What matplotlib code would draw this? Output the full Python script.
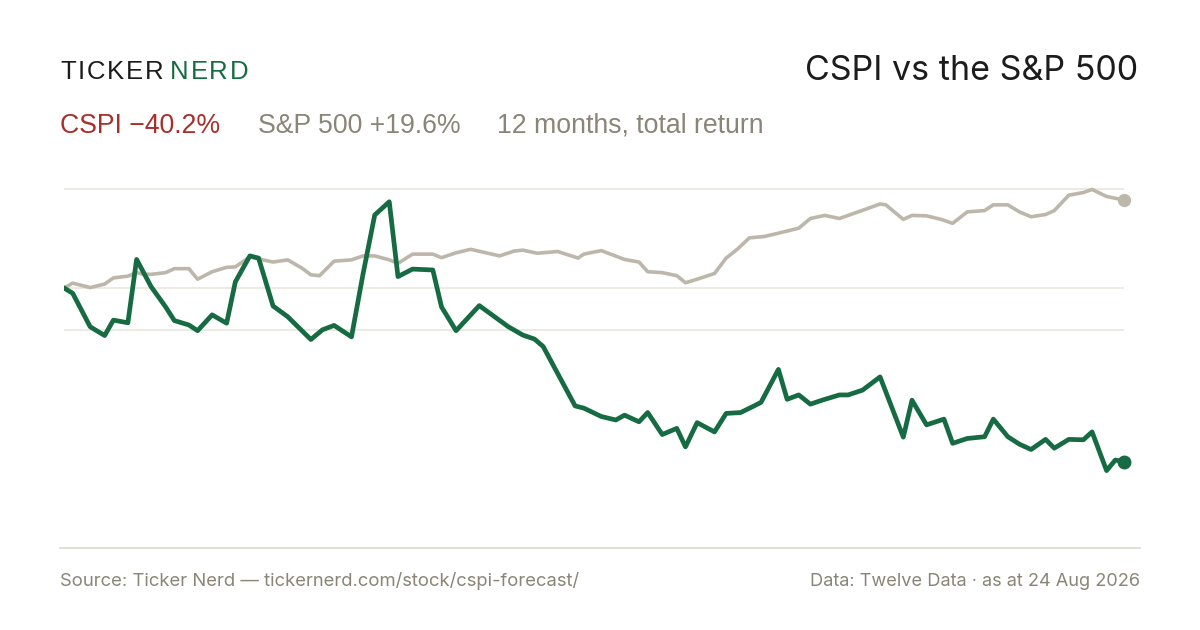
import pandas as pd
import matplotlib.pyplot as plt

plt.rcParams['font.family'] = ['Inter', 'DejaVu Sans']

# day offsets from 24 Aug 2025 and % return
cspi_days = [0, 3, 9, 14, 17, 22, 25, 30, 35, 38, 43, 46, 51, 56, 59, 64, 67, 72, 77, 85,
             89, 93, 99, 103, 107, 112, 115, 120, 127, 130, 135, 143, 148, 153, 158, 162, 165,
             176, 179, 185, 190, 193, 198, 201, 206, 211, 214, 218, 224, 228, 233, 237, 240,
             246, 249, 253, 257, 261, 267, 270, 275, 281, 289, 292, 297, 303, 306, 311, 317,
             320, 325, 329, 333, 338, 341, 346, 351, 354, 359, 362, 365]
cspi_ret = [0.0, -1.2, -8.8, -10.8, -7.3, -7.9, 6.5, 0.3, -4.3, -7.4, -8.4, -9.7, -6.1, -8.0,
            1.4, 7.3, 6.8, -4.1, -6.5, -11.7, -9.5, -8.5, -11.1, 3.3, 16.6, 19.6, 2.6, 4.3, 4.1,
            -4.3, -9.7, -4.0, -6.4, -8.8, -10.7, -11.6, -13.3, -26.8, -27.3, -29.2, -30.0,
            -28.9, -30.4, -28.3, -33.3, -31.9, -36.1, -30.6, -32.7, -28.5, -28.3, -27.0, -26.0,
            -18.5, -25.3, -24.3, -26.4, -25.5, -24.3, -24.3, -23.2, -20.2, -33.9, -25.5, -31.1,
            -29.8, -35.3, -34.2, -33.8, -29.8, -33.8, -35.5, -36.7, -34.4, -36.4, -34.4, -34.5,
            -32.7, -41.5, -39.1, -39.5]

spx_days = [0, 3, 9, 14, 17, 22, 25, 27, 30, 35, 38, 43, 46, 51, 56, 59, 64, 67, 72, 77, 82,
            85, 88, 93, 99, 103, 107, 112, 115, 120, 127, 130, 135, 140, 150, 155, 158, 163,
            170, 177, 179, 185, 193, 198, 201, 206, 211, 214, 218, 224, 228, 232, 236, 241,
            245, 253, 257, 262, 267, 276, 281, 283, 289, 292, 297, 302, 306, 311, 317, 320,
            325, 329, 333, 338, 341, 346, 351, 354, 359, 362, 365]
spx_ret = [0.0, 1.1, 0.1, 0.9, 2.3, 2.7, 3.5, 3.2, 3.1, 3.5, 4.4, 4.4, 2.0, 3.7, 4.7, 4.8, 7.1,
           6.6, 5.9, 6.4, 4.5, 3.0, 2.8, 6.1, 6.4, 7.3, 7.3, 6.4, 5.6, 7.7, 7.7, 6.9, 8.0, 8.8,
           7.3, 8.4, 8.6, 7.9, 8.3, 6.8, 7.7, 8.5, 6.5, 5.9, 3.7, 3.5, 2.8, 1.2, 2.0, 3.3, 6.8,
           8.9, 11.4, 11.7, 12.3, 13.6, 15.8, 16.5, 15.8, 17.9, 19.1, 18.9, 15.6, 16.5, 16.4,
           15.6, 14.7, 17.3, 17.6, 18.9, 18.9, 17.3, 16.2, 16.7, 17.6, 21.1, 21.7, 22.4, 20.8,
           20.4, 20.0]

grid_levels = [22.4, 0, -9.5]

start = pd.Timestamp('2025-08-24')
cspi_dates = start + pd.to_timedelta(cspi_days, unit='D')
spx_dates = start + pd.to_timedelta(spx_days, unit='D')

green = '#176b43'
grey_line = '#bdb6ab'
grey_text = '#8a8577'
red = '#a8302b'
sans = ['Liberation Sans', 'DejaVu Sans']

fig = plt.figure(figsize=(12, 6.3), dpi=100)
ax = fig.add_axes([64 / 1200, 130 / 630, 1060 / 1200, 320 / 630])

for g in grid_levels:
    ax.axhline(g, color='#e8e4da', lw=1.1, zorder=0)

ax.plot(spx_dates, spx_ret, color=grey_line, lw=2.6, solid_joinstyle='round', zorder=2)
ax.plot(cspi_dates, cspi_ret, color=green, lw=3.4, solid_joinstyle='round', zorder=3)
ax.plot(spx_dates[-1], spx_ret[-1], 'o', color=grey_line, ms=8.5, zorder=4, clip_on=False)
ax.plot(cspi_dates[-1], cspi_ret[-1], 'o', color=green, ms=9, zorder=4, clip_on=False)

ax.set_xlim(cspi_dates[0], cspi_dates[-1])
ax.set_ylim(-48.18, 24.55)
ax.axis('off')

def px(x, y):
    return x / 1200, 1 - y / 630

# logo with wide letter spacing
renderer = fig.canvas.get_renderer()
def spaced(x, y, word, color, track=1.8, size=18.5):
    for ch in word:
        t = fig.text(*px(x, y), ch, fontsize=size, color=color, va='baseline', family=sans)
        x += t.get_window_extent(renderer).width + track
    return x

spaced(60, 79, 'TICKER', '#1c1c1c')
spaced(170, 79, 'NERD', green)

fig.text(*px(1138, 80), 'CSPI vs the S&P 500', fontsize=24.5, color='#1c1c1c',
         ha='right', va='baseline')

fig.text(*px(60, 133), 'CSPI \u221240.2%', fontsize=19.2, color=red, va='baseline', family=sans)
fig.text(*px(258, 133), 'S&P 500 +19.6%', fontsize=19.2, color=grey_text, va='baseline',
         family=sans)
fig.text(*px(497, 133), '12 months, total return', fontsize=19.2, color=grey_text,
         va='baseline', family=sans)

# footer
fig.add_artist(plt.Line2D([60 / 1200, 1140 / 1200], [1 - 548 / 630] * 2,
                          color='#dcd8cc', lw=1.2))
fig.text(*px(60, 586), 'Source: Ticker Nerd \u2014 tickernerd.com/stock/cspi-forecast/',
         fontsize=13.3, color=grey_text, va='baseline')
fig.text(*px(1140, 586), 'Data: Twelve Data \u00b7 as at 24 Aug 2026',
         fontsize=13.1, color=grey_text, ha='right', va='baseline')

fig.savefig('out.png', dpi=100, facecolor='white')
